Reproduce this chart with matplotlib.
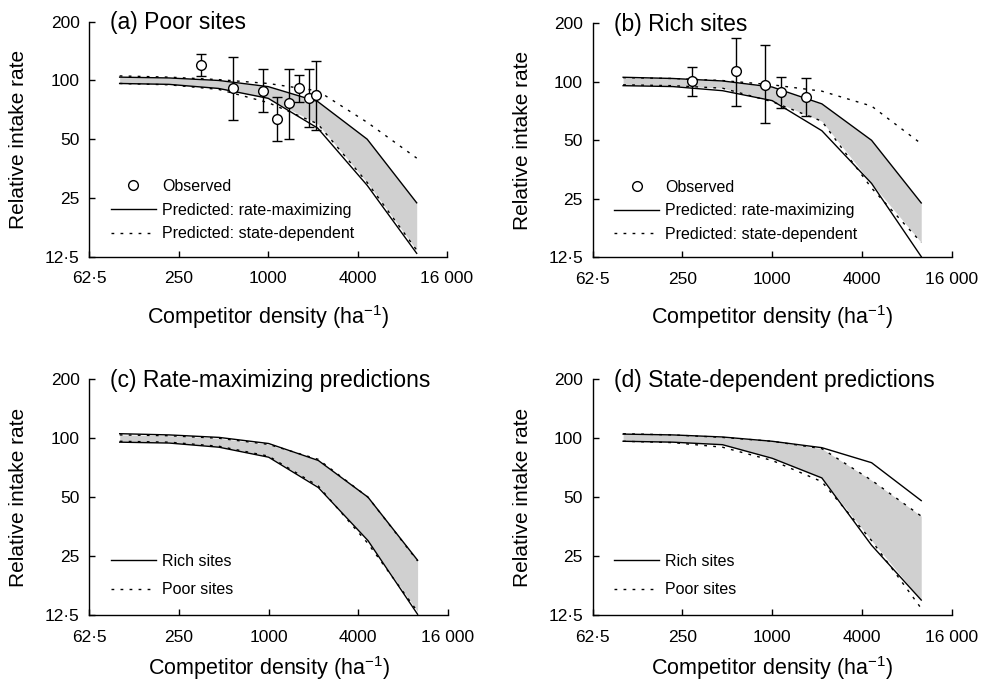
import matplotlib
matplotlib.use('Agg')
import matplotlib.pyplot as plt
from matplotlib.ticker import NullLocator
import numpy as np

plt.rcParams['font.family'] = ['Liberation Sans', 'DejaVu Sans']
plt.rcParams['mathtext.fontset'] = 'custom'
plt.rcParams['mathtext.rm'] = 'Liberation Sans'
plt.rcParams['mathtext.it'] = 'Liberation Sans:italic'

# competitor densities at which the model was run (ha-1)
density = [100, 215, 464, 1000, 2154, 4642, 10000]

# rate-maximizing predictions (upper / lower bound of the range)
rm_rich_hi = [105.5, 104, 101, 94, 77, 50, 23.8]
rm_rich_lo = [95.5, 94.5, 90, 80, 56, 30, 12.6]
rm_poor_hi = [104, 103, 100, 93, 78, 50, 23.6]
rm_poor_lo = [96.5, 95.5, 91, 81, 57, 29, 13.0]

# state-dependent predictions
sd_rich_hi = [105, 104, 101.5, 96.5, 89.5, 75, 48]
sd_rich_lo = [96.5, 95.5, 92.7, 79, 62.7, 28.4, 14.9]
sd_poor_hi = [105.5, 104, 101, 96.5, 88.5, 61, 40]
sd_poor_lo = [96.5, 95, 90, 77, 60, 30, 13.5]

# observed intake rates with error bars
obs_poor_x = [352, 583, 924, 1154, 1376, 1614, 1877, 2112]
obs_poor_y = [120, 91, 88.6, 63.7, 76.3, 91.1, 81.3, 84.5]
obs_poor_hi = [136.5, 131.6, 114, 82.5, 114, 107, 114, 126]
obs_poor_lo = [105, 62.5, 69, 48.8, 50, 77.6, 58, 55.8]

obs_rich_x = [291, 574, 898, 1143, 1675]
obs_rich_y = [100.7, 113.4, 96.5, 88.1, 84]
obs_rich_hi = [119.5, 169, 154, 105.6, 104.8]
obs_rich_lo = [84.7, 75.2, 61.5, 73.2, 66.3]

xticks = [62.5, 250, 1000, 4000, 16000]
xticklabels = ['62·5', '250', '1000', '4000', '16 000']
yticks = [12.5, 25, 50, 100, 200]
yticklabels = ['12·5', '25', '50', '100', '200']

SHADE = '#d0d0d0'
DOT = (0, (2, 4.5))


def setup(ax, title, xpad):
    ax.set_xscale('log', base=2)
    ax.set_yscale('log', base=2)
    ax.set_xlim(62.5, 16000)
    ax.set_ylim(12.5, 200)
    ax.set_xticks(xticks)
    ax.set_xticklabels(xticklabels)
    ax.set_yticks(yticks)
    ax.set_yticklabels(yticklabels)
    ax.xaxis.set_minor_locator(NullLocator())
    ax.yaxis.set_minor_locator(NullLocator())
    for s in ['top', 'right']:
        ax.spines[s].set_visible(False)
    for s in ['left', 'bottom']:
        ax.spines[s].set_linewidth(1.0)
    ax.tick_params(direction='in', length=4, width=1, labelsize=12.5)
    ax.tick_params(axis='x', pad=10.5)
    ax.tick_params(axis='y', pad=7)
    ax.set_xlabel('Competitor density (ha$^{-1}$)', fontsize=15.5, labelpad=xpad)
    ax.set_ylabel('Relative intake rate', fontsize=15, labelpad=12)
    ax.text(0.058, 0.995, title, transform=ax.transAxes, fontsize=16.5, va='center')


def band(ax, hi1, lo1, hi2, lo2):
    top = np.minimum(hi1, hi2)
    bot = np.maximum(lo1, lo2)
    ax.fill_between(density, bot, top, color=SHADE, lw=0, zorder=1)


def pair(ax, hi, lo, ls):
    l1, = ax.plot(density, hi, color='black', lw=1.0, ls=ls, zorder=2)
    ax.plot(density, lo, color='black', lw=1.0, ls=ls, zorder=2)
    return l1


def observed(ax, x, y, hi, lo):
    y = np.array(y)
    err = [y - np.array(lo), np.array(hi) - y]
    ax.errorbar(x, y, yerr=err, fmt='none', ecolor='black', elinewidth=1.0,
                capsize=3.5, capthick=1.0, zorder=3)
    pts, = ax.plot(x, y, 'o', ms=7, mfc='white', mec='black', mew=1.0, zorder=4)
    return pts


fig = plt.figure(figsize=(9.87, 6.83), dpi=100)
ax_a = fig.add_axes([0.0905, 0.6242, 0.3624, 0.344])
ax_b = fig.add_axes([0.6005, 0.6233, 0.3637, 0.3426])
ax_c = fig.add_axes([0.0905, 0.0996, 0.3634, 0.345])
ax_d = fig.add_axes([0.6005, 0.0996, 0.3637, 0.345])

top_labels = ['Observed', 'Predicted: rate-maximizing', 'Predicted: state-dependent']
legend_top = dict(loc='lower left', bbox_to_anchor=(0.06, 0.065), frameon=False, fontsize=11.5,
                  handlelength=2.8, handletextpad=0.4, labelspacing=0.55, borderpad=0,
                  borderaxespad=0)
legend_bottom = dict(loc='lower left', bbox_to_anchor=(0.06, 0.075), frameon=False, fontsize=11.5,
                     handlelength=2.8, handletextpad=0.4, labelspacing=0.85, borderpad=0,
                     borderaxespad=0)

# (a) poor sites
band(ax_a, rm_poor_hi, rm_poor_lo, sd_poor_hi, sd_poor_lo)
s = pair(ax_a, rm_poor_hi, rm_poor_lo, '-')
d = pair(ax_a, sd_poor_hi, sd_poor_lo, DOT)
p = observed(ax_a, obs_poor_x, obs_poor_y, obs_poor_hi, obs_poor_lo)
setup(ax_a, '(a) Poor sites', 12)
ax_a.legend([p, s, d], top_labels, **legend_top)

# (b) rich sites
band(ax_b, rm_rich_hi, rm_rich_lo, sd_rich_hi, sd_rich_lo)
s = pair(ax_b, rm_rich_hi, rm_rich_lo, '-')
d = pair(ax_b, sd_rich_hi, sd_rich_lo, DOT)
p = observed(ax_b, obs_rich_x, obs_rich_y, obs_rich_hi, obs_rich_lo)
setup(ax_b, '(b) Rich sites', 12)
ax_b.legend([p, s, d], top_labels, **legend_top)

# (c) rate-maximizing predictions
band(ax_c, rm_rich_hi, rm_rich_lo, rm_poor_hi, rm_poor_lo)
s = pair(ax_c, rm_rich_hi, rm_rich_lo, '-')
d = pair(ax_c, rm_poor_hi, rm_poor_lo, DOT)
setup(ax_c, '(c) Rate-maximizing predictions', 7)
ax_c.legend([s, d], ['Rich sites', 'Poor sites'], **legend_bottom)

# (d) state-dependent predictions
band(ax_d, sd_rich_hi, sd_rich_lo, sd_poor_hi, sd_poor_lo)
s = pair(ax_d, sd_rich_hi, sd_rich_lo, '-')
d = pair(ax_d, sd_poor_hi, sd_poor_lo, DOT)
setup(ax_d, '(d) State-dependent predictions', 7)
ax_d.legend([s, d], ['Rich sites', 'Poor sites'], **legend_bottom)

fig.savefig('out.png', dpi=100)
